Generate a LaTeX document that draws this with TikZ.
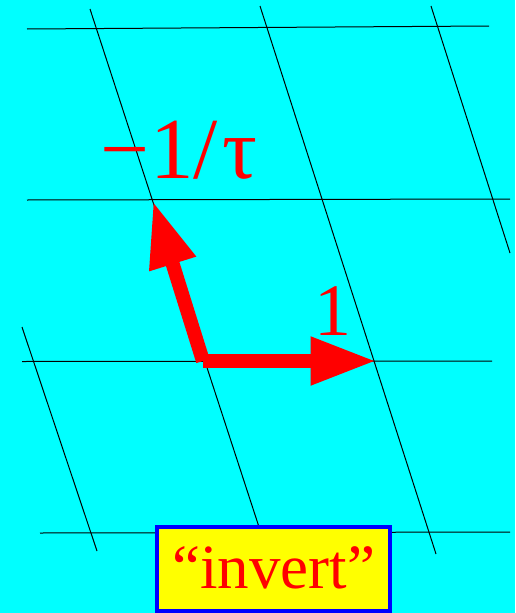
\documentclass[tikz,border=0pt]{standalone}
\usepackage{fontspec}
\setmainfont{Liberation Serif}
\usepackage{xcolor}
\usetikzlibrary{arrows.meta, math}
\definecolor{mycyan}{RGB}{0,255,255}
\definecolor{myred}{RGB}{255,0,0}
\definecolor{myyellow}{RGB}{255,255,0}
\definecolor{myblue}{RGB}{0,0,255}

\begin{document}
\begin{tikzpicture}[x=1pt,y=-1pt]
\tikzmath{
\shaft=14;
\headlen=66;
\headwid=45;
}
\fill[color=mycyan] (0,0) rectangle (515,613);
\path[use as bounding box] (0,0) rectangle (515,613);

\draw[line width=1] (27,29) -- (489,26);
\draw[line width=1] (27,200) -- (510,199);
\draw[line width=1] (22,361.5) -- (492,361);
\draw[line width=1] (40,533) -- (510,532);

\draw[line width=1] (90,9) -- (259,527);
\draw[line width=1] (260,6) -- (436,554);
\draw[line width=1] (431,6) -- (510,253);
\draw[line width=1] (22,327) -- (97,551);

\coordinate (O) at (203,361);
\coordinate (one) at (376.5,361);
\coordinate (tauinv) at (153,201);
\draw[line width=\shaft, color=myred, -{Triangle[length=\headlen pt, width=\headwid pt]}] (O) -- (one);
\draw[line width=\shaft, color=myred, -{Triangle[length=\headlen pt, width=\headwid pt]}] (O) -- (tauinv);

\node[anchor=base, color=myred, font=\fontsize{87}{87}\selectfont] (taulabel) at (179,178) {−1/\kern0.05em τ};
\node[anchor=base, color=myred, font=\fontsize{74}{74}\selectfont] (onelabel) at (333,335) {1};

\node[draw=myblue, fill=myyellow, line width=4, text=myred, minimum width=233pt, minimum height=84pt, inner sep=0pt, text height=44pt, text depth=6pt, font=\fontsize{63}{63}\selectfont] (invert) at (273.5,569) {“invert”};
\end{tikzpicture}
\end{document}
